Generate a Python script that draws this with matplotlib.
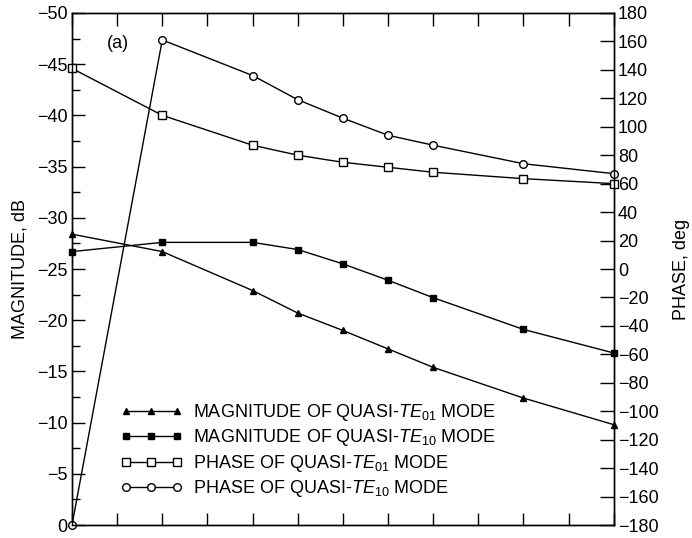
import matplotlib
matplotlib.use("Agg")
import matplotlib.pyplot as plt
from matplotlib.ticker import MultipleLocator

plt.rcParams.update({
    "font.family": ["Liberation Sans", "DejaVu Sans"],
    "font.size": 13,
    "mathtext.fontset": "custom",
    "mathtext.rm": "Liberation Sans",
    "mathtext.it": "Liberation Sans:italic",
    "mathtext.bf": "Liberation Sans:bold",
    "axes.linewidth": 1.0,
})

# frequency steps (no labels on the axis)
x_pts = [0, 2, 4, 5, 6, 7, 8, 10, 12]

# magnitude, dB
mag_te01 = [-28.4, -26.7, -22.9, -20.7, -19.0, -17.2, -15.4, -12.4, -9.8]
mag_te10 = [-26.7, -27.6, -27.6, -26.9, -25.5, -23.9, -22.2, -19.1, -16.8]

# phase, deg
phase_te01 = [141, 108, 87, 80, 75, 71.5, 68, 63.5, 60]
phase_te10 = [-180, 161, 136, 119, 106, 94, 87, 74, 67]

labels = [
    r"MAGNITUDE OF QUASI-$\mathit{TE}_{\mathrm{01}}$ MODE",
    r"MAGNITUDE OF QUASI-$\mathit{TE}_{\mathrm{10}}$ MODE",
    r"PHASE OF QUASI-$\mathit{TE}_{\mathrm{01}}$ MODE",
    r"PHASE OF QUASI-$\mathit{TE}_{\mathrm{10}}$ MODE",
]

fig = plt.figure(figsize=(6.92, 5.38), dpi=100)
ax = fig.add_axes([0.104, 0.024, 0.783, 0.952])
ax2 = ax.twinx()

line_kw = dict(color="black", linewidth=1.0, clip_on=False)

h1, = ax.plot(x_pts, mag_te01, marker="^", markersize=5, markerfacecolor="black",
              markeredgecolor="black", **line_kw)
h2, = ax.plot(x_pts, mag_te10, marker="s", markersize=5, markerfacecolor="black",
              markeredgecolor="black", **line_kw)
h3, = ax2.plot(x_pts, phase_te01, marker="s", markersize=5.5, markerfacecolor="white",
               markeredgecolor="black", markeredgewidth=1.0, **line_kw)
h4, = ax2.plot(x_pts, phase_te10, marker="o", markersize=5.5, markerfacecolor="white",
               markeredgecolor="black", markeredgewidth=1.0, **line_kw)

# magnitude axis runs from 0 at the bottom to -50 at the top
ax.set_xlim(0, 12)
ax.set_ylim(0, -50)
ax.yaxis.set_major_locator(MultipleLocator(5))
ax.yaxis.set_minor_locator(MultipleLocator(2.5))
ax.xaxis.set_major_locator(MultipleLocator(1))
ax.tick_params(axis="x", which="both", direction="in", top=True, bottom=True,
               labelbottom=False, length=9, width=1.0)
ax.tick_params(axis="y", which="major", direction="in", length=9, width=1.0, pad=3)
ax.tick_params(axis="y", which="minor", direction="in", length=6, width=1.0)
ax.set_ylabel("MAGNITUDE, dB", labelpad=6)

ax2.set_ylim(-180, 180)
ax2.yaxis.set_major_locator(MultipleLocator(20))
ax2.tick_params(axis="y", direction="in", length=10, width=1.0, pad=3)
ax2.set_ylabel("PHASE, deg", labelpad=10)

ax.text(0.065, 0.94, "(a)", transform=ax.transAxes, ha="left", va="center")

ax2.legend([h1, h2, h3, h4], labels, loc="lower left",
           bbox_to_anchor=(0.09, 0.05), frameon=False, numpoints=3,
           handlelength=3.4, handletextpad=0.6, labelspacing=0.25,
           borderpad=0, borderaxespad=0, fontsize=13)

fig.savefig("out.png", dpi=100)
